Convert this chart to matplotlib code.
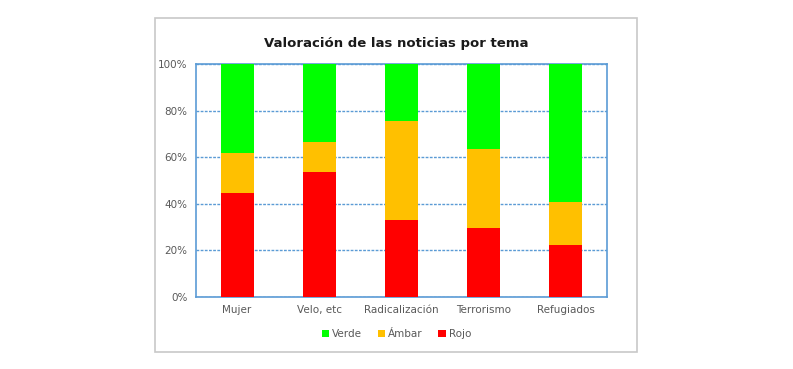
import numpy as np
import matplotlib.pyplot as plt
from matplotlib.patches import Rectangle

# Data (percent of news per topic)
temas = ["Mujer", "Velo, etc", "Radicalización", "Terrorismo", "Refugiados"]
rojo = [44.8, 53.6, 32.9, 29.6, 22.4]
ambar = [16.9, 13.1, 42.5, 33.8, 18.5]
verde = [38.3, 33.3, 24.6, 36.6, 59.1]

fig = plt.figure(figsize=(7.93, 3.69), dpi=100)
W, H = 793, 369

# outer chart box
fig.patches.append(Rectangle((155 / W, 1 - 352 / H), (637 - 155) / W, (352 - 18) / H,
                             transform=fig.transFigure, fill=False,
                             edgecolor="#c8c8c8", linewidth=1.2))

ax = fig.add_axes([196 / W, 1 - 297 / H, (607 - 196) / W, (297 - 64) / H])
x = np.arange(len(temas))
w = 0.4
ax.bar(x, rojo, w, color="#ff0000", label="Rojo", zorder=3)
ax.bar(x, ambar, w, bottom=rojo, color="#ffc000", label="Ámbar", zorder=3)
ax.bar(x, verde, w, bottom=np.array(rojo) + np.array(ambar), color="#00ff00",
       label="Verde", zorder=3)

ax.set_xlim(-0.5, len(temas) - 0.5)
ax.set_ylim(0, 100)
ax.set_yticks(range(0, 101, 20))
ax.set_yticklabels([f"{v}%" for v in range(0, 101, 20)])
ax.set_xticks(x)
ax.set_xticklabels(temas)
ax.tick_params(length=0, labelsize=7.5, labelcolor="#595959", pad=6)
ax.yaxis.grid(True, linestyle=(0, (2, 1)), color="#5b9bd5", linewidth=1, zorder=1)
for s in ax.spines.values():
    s.set_color("#5b9bd5")
    s.set_linewidth(1.2)

fig.text((155 + 637) / 2 / W, 1 - 44 / H, "Valoración de las noticias por tema",
         ha="center", va="center", fontsize=9.5, fontweight="bold", color="#1a1a1a")

h, l = ax.get_legend_handles_labels()
fig.legend(h[::-1], l[::-1], loc="center", bbox_to_anchor=(0.5, 1 - 334 / H), ncol=3,
           frameon=False, fontsize=7.5, handlelength=0.7, handleheight=0.7,
           handletextpad=0.3, columnspacing=1.5, labelcolor="#595959")

fig.savefig("out.png", dpi=100)
